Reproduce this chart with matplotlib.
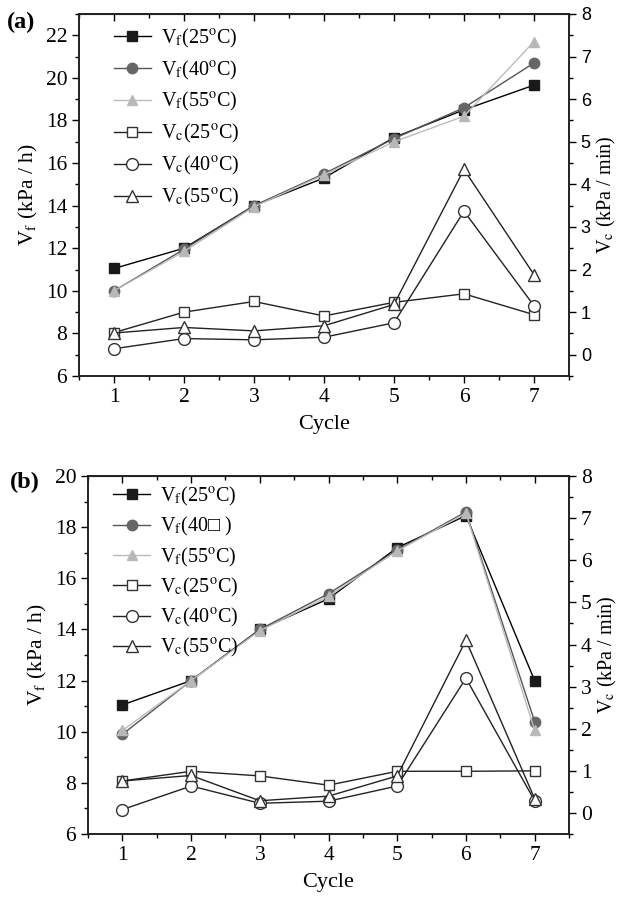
import numpy as np
import matplotlib
matplotlib.use("Agg")
import matplotlib.pyplot as plt
from matplotlib.ticker import MultipleLocator

plt.rcParams['font.family'] = ['Liberation Serif', 'DejaVu Sans']
plt.rcParams['mathtext.fontset'] = 'stix'

cycles = [1, 2, 3, 4, 5, 6, 7]

# panel (a) - Vf on left axis (kPa/h), Vc on right axis (kPa/min)
a_vf25 = [11.05, 12.0, 14.0, 15.3, 17.2, 18.5, 19.66]
a_vf40 = [10.0, 11.95, 14.0, 15.5, 17.15, 18.6, 20.7]
a_vf55 = [10.0, 11.85, 13.95, 15.45, 17.0, 18.2, 21.7]
a_vc25 = [0.52, 1.0, 1.25, 0.91, 1.23, 1.43, 0.94]
a_vc40 = [0.14, 0.38, 0.35, 0.41, 0.75, 3.37, 1.15]
a_vc55 = [0.51, 0.64, 0.56, 0.68, 1.18, 4.35, 1.88]

# panel (b)
b_vf25 = [11.05, 12.0, 14.0, 15.2, 17.2, 18.45, 12.0]
b_vf40 = [9.9, 12.0, 14.0, 15.4, 17.1, 18.6, 10.4]
b_vf55 = [10.05, 12.0, 13.95, 15.3, 17.07, 18.55, 10.07]
b_vc25 = [0.76, 0.99, 0.88, 0.66, 0.99, 0.99, 1.0]
b_vc40 = [0.08, 0.64, 0.23, 0.28, 0.64, 3.2, 0.29]
b_vc55 = [0.76, 0.89, 0.29, 0.40, 0.88, 4.1, 0.34]

labels_a = [r"V$_\mathrm{f}$(25$^\mathrm{o}$C)", r"V$_\mathrm{f}$(40$^\mathrm{o}$C)",
            r"V$_\mathrm{f}$(55$^\mathrm{o}$C)", r"V$_\mathrm{c}$(25$^\mathrm{o}$C)",
            r"V$_\mathrm{c}$(40$^\mathrm{o}$C)", r"V$_\mathrm{c}$(55$^\mathrm{o}$C)"]
labels_b = list(labels_a)
labels_b[1] = r"V$_\mathrm{f}$(40" + "\u25a1 )"

fig = plt.figure(figsize=(6.23, 8.97), dpi=100)


def panel(rect, vf, vc, left_lim, labels, leg_x, leg_top, spacing, rtick_font, tag_xy, tag):
    ax = fig.add_axes(rect)
    ax2 = ax.twinx()
    ms = 7.5
    h = []
    h += ax.plot(cycles, vf[0], '-s', color='black', mfc='#1a1a1a', mec='#1a1a1a', lw=1.0, ms=ms)
    h += ax.plot(cycles, vf[1], '-o', color='#555555', mfc='#666666', mec='#666666', lw=1.0, ms=ms)
    h += ax.plot(cycles, vf[2], '-^', color='#bbbbbb', mfc='#b8b8b8', mec='#b8b8b8', lw=1.0, ms=ms)
    h += ax2.plot(cycles, vc[0], '-s', color='#222222', mfc='white', mec='#333333', lw=1.0, ms=ms)
    h += ax2.plot(cycles, vc[1], '-o', color='#222222', mfc='white', mec='#333333', lw=1.0, ms=ms + 1)
    h += ax2.plot(cycles, vc[2], '-^', color='#222222', mfc='white', mec='#333333', lw=1.0, ms=ms + 1)

    ax.set_xlim(0.5, 7.5)
    ax.set_ylim(*left_lim)
    ax2.set_ylim(-0.5, 8)
    ax.xaxis.set_major_locator(MultipleLocator(1))
    ax.xaxis.set_minor_locator(MultipleLocator(0.5))
    ax.yaxis.set_major_locator(MultipleLocator(2))
    ax.yaxis.set_minor_locator(MultipleLocator(1))
    ax2.yaxis.set_major_locator(MultipleLocator(1))
    ax2.yaxis.set_minor_locator(MultipleLocator(0.5))

    ax.tick_params(axis='both', which='major', direction='out', length=5, width=1, labelsize=15.5)
    ax.tick_params(axis='both', which='minor', direction='out', length=3, width=1)
    ax2.tick_params(axis='y', which='major', direction='out', length=5, width=1, labelsize=rtick_font[1])
    ax2.tick_params(axis='y', which='minor', direction='out', length=3, width=1)
    for t in ax2.get_yticklabels():
        t.set_family(rtick_font[0])

    top = ax.secondary_xaxis('top')
    top.xaxis.set_major_locator(MultipleLocator(1))
    top.xaxis.set_minor_locator(MultipleLocator(0.5))
    top.tick_params(which='major', direction='in', length=5, width=1, labeltop=False)
    top.tick_params(which='minor', direction='in', length=3, width=1)

    for sp in list(ax.spines.values()) + list(ax2.spines.values()):
        sp.set_linewidth(1.2)
        sp.set_color('#222222')

    ax.set_xlabel("Cycle", fontsize=16, labelpad=6)
    ax.set_ylabel(r"V$_\mathrm{f}$ (kPa / h)", fontsize=15.5, labelpad=4)
    ax2.set_ylabel(r"V$_\mathrm{c}$ (kPa / min)", fontsize=14.5, labelpad=3)

    ax2.legend(h, labels, loc='upper left', bbox_to_anchor=(leg_x, leg_top), frameon=False,
               fontsize=14.5, handlelength=1.85, handletextpad=0.5, labelspacing=spacing,
               borderpad=0, borderaxespad=0)
    fig.text(tag_xy[0], tag_xy[1], tag, fontsize=17.5, fontweight='bold')
    return ax, ax2


panel([0.1268, 0.5808, 0.7865, 0.4036], (a_vf25, a_vf40, a_vf55), (a_vc25, a_vc40, a_vc55),
      (6, 23), labels_a, 0.071, 0.965, 0.44, ('Liberation Sans', 13), (0.011, 0.969), '(a)')
panel([0.1413, 0.0702, 0.7720, 0.3991], (b_vf25, b_vf40, b_vf55), (b_vc25, b_vc40, b_vc55),
      (6, 20), labels_b, 0.052, 0.975, 0.36, ('Liberation Serif', 15.5), (0.016, 0.456), '(b)')

fig.savefig("out.png", dpi=100)
